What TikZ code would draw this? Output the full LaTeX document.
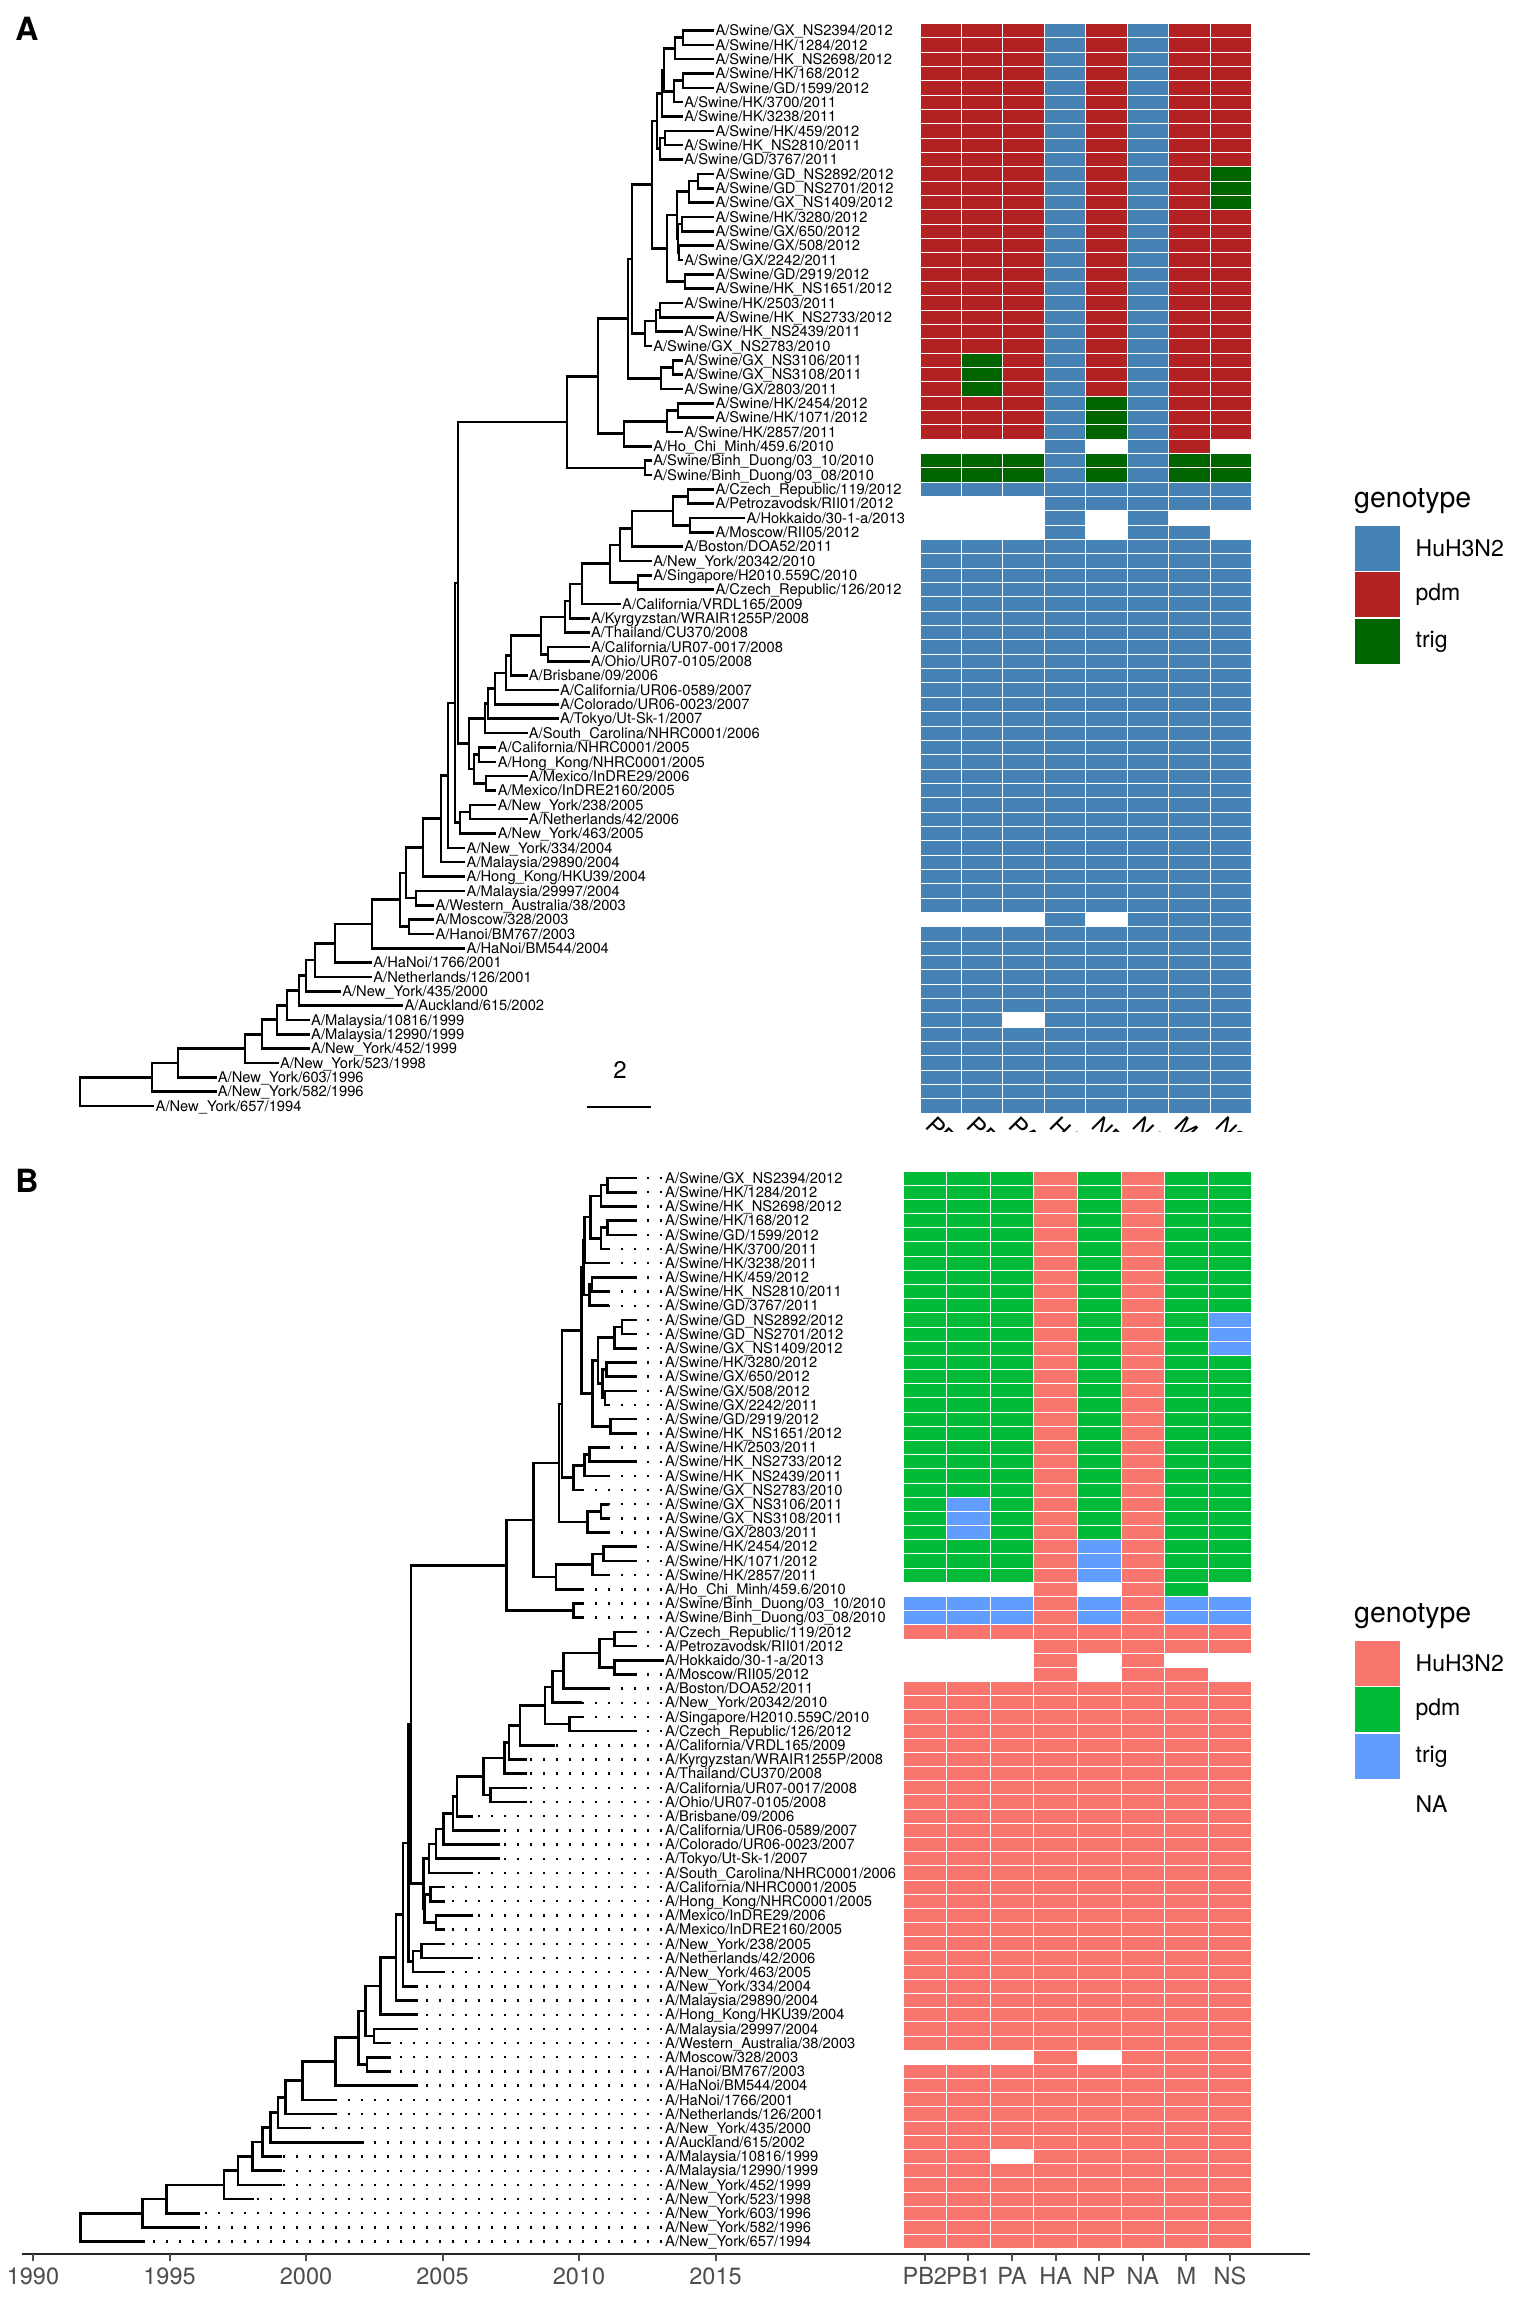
\documentclass[tikz,border=0pt]{standalone}
\usepackage{fontspec}
\setmainfont{TeX Gyre Heros}
\usetikzlibrary{calc,positioning}

\definecolor{Ah}{RGB}{70,130,180}
\definecolor{Ap}{RGB}{178,34,34}
\definecolor{At}{RGB}{0,100,0}
\definecolor{An}{RGB}{255,255,255}
\definecolor{Bh}{HTML}{F8766D}
\definecolor{Bp}{HTML}{00BA38}
\definecolor{Bt}{HTML}{619CFF}
\definecolor{Bn}{RGB}{255,255,255}
\definecolor{axisgray}{HTML}{4D4D4D}

\tikzset{
  branch/.style={line width=2.6pt, line cap=rect},
  tipline/.style={line width=2.4pt, dash pattern=on 2.4pt off 10.6pt},
  taxon/.style={anchor=base west, inner sep=0pt, yshift=-5.2pt, font=\fontsize{14.7}{15}\selectfont},
  cell/.style={draw=white, line width=0.9pt},
  keybox/.style={draw=white, line width=0.9pt, minimum size=46pt, inner sep=0pt},
  keytext/.style={anchor=west, inner sep=0pt, font=\fontsize{23}{24}\selectfont},
  keytitle/.style={anchor=base west, inner sep=0pt, font=\fontsize{28.5}{30}\selectfont},
  ticklab/.style={anchor=base, inner sep=0pt, text=axisgray, font=\fontsize{23.5}{24}\selectfont},
  panlab/.style={inner sep=0pt, font=\fontsize{32}{34}\selectfont\bfseries},
}

\newif\ifpanB
\newcommand\swgen{p,p,p,h,p,h,p,p}
\newcommand\hugen{h,h,h,h,h,h,h,h}

% one taxon: row, year, label, genotypes of the 8 segments
\newcommand\leaf[4]{%
  \edef\glist{#4}%
  \ifpanB
    \pgfmathsetmacro\leafy{1171+(#1-0.5)*14.18}%
    \pgfmathsetmacro\leafx{33+(#2+0.06-1990)*27.3}%
    \coordinate (l#1) at (\leafx,\leafy);
    \draw[tipline] (662,\leafy) -- (l#1);
    \node[taxon] (tB#1) at (665,\leafy) {#3};
    \foreach \g [count=\j] in \glist
      \fill[cell, fill=B\g] ({903+(\j-1)*43.6},{\leafy-7.09}) rectangle ++(43.6,14.18);
  \else
    \pgfmathsetmacro\leafy{23.3+(#1-0.5)*14.34}%
    \pgfmathsetmacro\leafx{28.6+(#2-1990)*31.1}%
    \coordinate (l#1) at (\leafx,\leafy);
    \node[taxon] (tA#1) at (\leafx+2.5,\leafy) {#3};
    \foreach \g [count=\j] in \glist
      \fill[cell, fill=A\g] ({920+(\j-1)*41.45},{\leafy-7.17}) rectangle ++(41.45,14.34);
  \fi}

% one clade: name, two children, x in A, date in B
\newcommand\clade[5]{%
  \ifpanB\pgfmathsetmacro\cladex{33+(#5-1990)*27.3}\else\def\cladex{#4}\fi
  \coordinate (m) at ($(#2)!.5!(#3)$);
  \coordinate (#1) at (\cladex,0 |- m);
  \draw[branch] (#2) -| (#1) |- (#3);}

\newcommand\treedata{%
\leaf{1}{2012}{A/Swine/GX\_NS2394/2012}{\swgen}
\leaf{2}{2012}{A/Swine/HK/1284/2012}{\swgen}
\leaf{3}{2012}{A/Swine/HK\_NS2698/2012}{\swgen}
\leaf{4}{2012}{A/Swine/HK/168/2012}{\swgen}
\leaf{5}{2012}{A/Swine/GD/1599/2012}{\swgen}
\leaf{6}{2011}{A/Swine/HK/3700/2011}{\swgen}
\leaf{7}{2011}{A/Swine/HK/3238/2011}{\swgen}
\leaf{8}{2012}{A/Swine/HK/459/2012}{\swgen}
\leaf{9}{2011}{A/Swine/HK\_NS2810/2011}{\swgen}
\leaf{10}{2011}{A/Swine/GD/3767/2011}{\swgen}
\leaf{11}{2012}{A/Swine/GD\_NS2892/2012}{p,p,p,h,p,h,p,t}
\leaf{12}{2012}{A/Swine/GD\_NS2701/2012}{p,p,p,h,p,h,p,t}
\leaf{13}{2012}{A/Swine/GX\_NS1409/2012}{p,p,p,h,p,h,p,t}
\leaf{14}{2012}{A/Swine/HK/3280/2012}{\swgen}
\leaf{15}{2012}{A/Swine/GX/650/2012}{\swgen}
\leaf{16}{2012}{A/Swine/GX/508/2012}{\swgen}
\leaf{17}{2011}{A/Swine/GX/2242/2011}{\swgen}
\leaf{18}{2012}{A/Swine/GD/2919/2012}{\swgen}
\leaf{19}{2012}{A/Swine/HK\_NS1651/2012}{\swgen}
\leaf{20}{2011}{A/Swine/HK/2503/2011}{\swgen}
\leaf{21}{2012}{A/Swine/HK\_NS2733/2012}{\swgen}
\leaf{22}{2011}{A/Swine/HK\_NS2439/2011}{\swgen}
\leaf{23}{2010}{A/Swine/GX\_NS2783/2010}{\swgen}
\leaf{24}{2011}{A/Swine/GX\_NS3106/2011}{p,t,p,h,p,h,p,p}
\leaf{25}{2011}{A/Swine/GX\_NS3108/2011}{p,t,p,h,p,h,p,p}
\leaf{26}{2011}{A/Swine/GX/2803/2011}{p,t,p,h,p,h,p,p}
\leaf{27}{2012}{A/Swine/HK/2454/2012}{p,p,p,h,t,h,p,p}
\leaf{28}{2012}{A/Swine/HK/1071/2012}{p,p,p,h,t,h,p,p}
\leaf{29}{2011}{A/Swine/HK/2857/2011}{p,p,p,h,t,h,p,p}
\leaf{30}{2010}{A/Ho\_Chi\_Minh/459.6/2010}{n,n,n,h,n,h,p,n}
\leaf{31}{2010}{A/Swine/Binh\_Duong/03\_10/2010}{t,t,t,h,t,h,t,t}
\leaf{32}{2010}{A/Swine/Binh\_Duong/03\_08/2010}{t,t,t,h,t,h,t,t}
\leaf{33}{2012}{A/Czech\_Republic/119/2012}{\hugen}
\leaf{34}{2012}{A/Petrozavodsk/RII01/2012}{n,n,n,h,h,h,h,h}
\leaf{35}{2013}{A/Hokkaido/30-1-a/2013}{n,n,n,h,n,h,n,n}
\leaf{36}{2012}{A/Moscow/RII05/2012}{n,n,n,h,n,h,h,n}
\leaf{37}{2011}{A/Boston/DOA52/2011}{\hugen}
\leaf{38}{2010}{A/New\_York/20342/2010}{\hugen}
\leaf{39}{2010}{A/Singapore/H2010.559C/2010}{\hugen}
\leaf{40}{2012}{A/Czech\_Republic/126/2012}{\hugen}
\leaf{41}{2009}{A/California/VRDL165/2009}{\hugen}
\leaf{42}{2008}{A/Kyrgyzstan/WRAIR1255P/2008}{\hugen}
\leaf{43}{2008}{A/Thailand/CU370/2008}{\hugen}
\leaf{44}{2008}{A/California/UR07-0017/2008}{\hugen}
\leaf{45}{2008}{A/Ohio/UR07-0105/2008}{\hugen}
\leaf{46}{2006}{A/Brisbane/09/2006}{\hugen}
\leaf{47}{2007}{A/California/UR06-0589/2007}{\hugen}
\leaf{48}{2007}{A/Colorado/UR06-0023/2007}{\hugen}
\leaf{49}{2007}{A/Tokyo/Ut-Sk-1/2007}{\hugen}
\leaf{50}{2006}{A/South\_Carolina/NHRC0001/2006}{\hugen}
\leaf{51}{2005}{A/California/NHRC0001/2005}{\hugen}
\leaf{52}{2005}{A/Hong\_Kong/NHRC0001/2005}{\hugen}
\leaf{53}{2006}{A/Mexico/InDRE29/2006}{\hugen}
\leaf{54}{2005}{A/Mexico/InDRE2160/2005}{\hugen}
\leaf{55}{2005}{A/New\_York/238/2005}{\hugen}
\leaf{56}{2006}{A/Netherlands/42/2006}{\hugen}
\leaf{57}{2005}{A/New\_York/463/2005}{\hugen}
\leaf{58}{2004}{A/New\_York/334/2004}{\hugen}
\leaf{59}{2004}{A/Malaysia/29890/2004}{\hugen}
\leaf{60}{2004}{A/Hong\_Kong/HKU39/2004}{\hugen}
\leaf{61}{2004}{A/Malaysia/29997/2004}{\hugen}
\leaf{62}{2003}{A/Western\_Australia/38/2003}{\hugen}
\leaf{63}{2003}{A/Moscow/328/2003}{n,n,n,h,n,h,h,h}
\leaf{64}{2003}{A/Hanoi/BM767/2003}{\hugen}
\leaf{65}{2004}{A/HaNoi/BM544/2004}{\hugen}
\leaf{66}{2001}{A/HaNoi/1766/2001}{\hugen}
\leaf{67}{2001}{A/Netherlands/126/2001}{\hugen}
\leaf{68}{2000}{A/New\_York/435/2000}{\hugen}
\leaf{69}{2002}{A/Auckland/615/2002}{\hugen}
\leaf{70}{1999}{A/Malaysia/10816/1999}{h,h,n,h,h,h,h,h}
\leaf{71}{1999}{A/Malaysia/12990/1999}{\hugen}
\leaf{72}{1999}{A/New\_York/452/1999}{\hugen}
\leaf{73}{1998}{A/New\_York/523/1998}{\hugen}
\leaf{74}{1996}{A/New\_York/603/1996}{\hugen}
\leaf{75}{1996}{A/New\_York/582/1996}{\hugen}
\leaf{76}{1994}{A/New\_York/657/1994}{\hugen}
% swine clade
\clade{c12}{l1}{l2}{683}{2011.05}
\clade{c123}{c12}{l3}{675}{2010.80}
\clade{c45}{l4}{l5}{683}{2011.05}
\clade{c456}{c45}{l6}{674}{2010.80}
\clade{c16}{c123}{c456}{664}{2010.42}
\clade{c17}{c16}{l7}{662}{2010.21}
\clade{c89}{l8}{l9}{665}{2010.48}
\clade{c810}{c89}{l10}{660}{2010.38}
\clade{c110}{c17}{c810}{657}{2010.17}
\clade{c1112}{l11}{l12}{698}{2011.58}
\clade{c1113}{c1112}{l13}{689}{2011.31}
\clade{c1415}{l14}{l15}{682}{2011.00}
\clade{c1617}{l16}{l17}{679}{2010.95}
\clade{c1417}{c1415}{c1617}{678}{2010.85}
\clade{c1117}{c1113}{c1417}{677}{2010.70}
\clade{c1819}{l18}{l19}{685}{2011.16}
\clade{c1119}{c1117}{c1819}{667}{2010.50}
\clade{c119}{c110}{c1119}{652}{2010.10}
\clade{c2021}{l20}{l21}{660}{2010.38}
\clade{c2022}{c2021}{l22}{656}{2010.21}
\clade{c2023}{c2022}{l23}{645}{2009.80}
\clade{c123x}{c119}{c2023}{632}{2009.37}
\clade{c2425}{l24}{l25}{673}{2010.80}
\clade{c2426}{c2425}{l26}{661}{2010.32}
\clade{c126}{c123x}{c2426}{628}{2009.27}
\clade{c2728}{l27}{l28}{678}{2010.89}
\clade{c2729}{c2728}{l29}{667}{2010.50}
\clade{c2730}{c2729}{l30}{624}{2009.16}
\clade{c130}{c126}{c2730}{598}{2008.33}
\clade{c3132}{l31}{l32}{645}{2009.80}
\clade{c132}{c130}{c3132}{567}{2007.34}
% human H3N2
\clade{c3334}{l33}{l34}{688}{2011.31}
\clade{c3536}{l35}{l36}{690}{2011.31}
\clade{c3336}{c3334}{c3536}{673}{2010.74}
\clade{c3337}{c3336}{l37}{632}{2009.44}
\clade{c3338}{c3337}{l38}{620}{2009.02}
\clade{c3940}{l39}{l40}{638}{2009.65}
\clade{c3340}{c3338}{c3940}{610}{2008.75}
\clade{c3341}{c3340}{l41}{582}{2007.84}
\clade{c3342}{c3341}{l42}{570}{2007.44}
\clade{c3343}{c3342}{l43}{565}{2007.28}
\clade{c4445}{l44}{l45}{548}{2006.75}
\clade{c3345}{c3343}{c4445}{541}{2006.50}
\clade{c3346}{c3345}{l46}{511}{2005.53}
\clade{c3347}{c3346}{l47}{506}{2005.39}
\clade{c3348}{c3347}{l48}{495}{2005.03}
\clade{c3349}{c3348}{l49}{488}{2004.76}
\clade{c3350}{c3349}{l50}{485}{2004.50}
\clade{c5152}{l51}{l52}{479}{2004.55}
\clade{c5354}{l53}{l54}{486}{2004.76}
\clade{c5154}{c5152}{c5354}{474}{2004.34}
\clade{c3354}{c3350}{c5154}{469}{2004.30}
\clade{c154}{c132}{c3354}{458}{2003.85}
\clade{c5556}{l55}{l56}{470}{2004.23}
\clade{c5557}{c5556}{l57}{460}{2003.92}
\clade{c157}{c154}{c5557}{455}{2003.76}
\clade{c158}{c157}{l58}{448}{2003.56}
\clade{c159}{c158}{l59}{441}{2003.29}
\clade{c160}{c159}{l60}{423}{2002.72}
\clade{c6162}{l61}{l62}{416}{2002.49}
\clade{c162}{c160}{c6162}{406}{2002.17}
\clade{c6364}{l63}{l64}{409}{2002.24}
\clade{c164}{c162}{c6364}{400}{2001.92}
\clade{c165}{c164}{l65}{372}{2001.08}
\clade{c166}{c165}{l66}{335}{1999.87}
\clade{c167}{c166}{l67}{315}{1999.24}
\clade{c168}{c167}{l68}{306}{1998.98}
\clade{c169}{c168}{l69}{299}{1998.71}
\clade{c170}{c169}{l70}{287}{1998.40}
\clade{c171}{c170}{l71}{277}{1998.04}
\clade{c172}{c171}{l72}{262}{1997.51}
\clade{c173}{c172}{l73}{245}{1996.99}
\clade{c174}{c173}{l74}{178}{1994.89}
\clade{c175}{c174}{l75}{152}{1994.00}
\clade{c176}{c175}{l76}{80}{1991.74}
}

\begin{document}
\begin{tikzpicture}[x=1pt,y=-1pt]
    \useasboundingbox (0,0) rectangle (1536,2304);
    \fill[white] (0,0) rectangle (1536,2304);

    % panel A: divergence tree
    \node[panlab] (panA) at (27,29) {A};
    \panBfalse
    \treedata
    \coordinate (sbL) at (588,1107);
    \coordinate (sbR) at (650,1107);
    \draw[branch] (sbL) -- (sbR);
    \node[inner sep=0pt, font=\fontsize{24}{26}\selectfont] (sbT) at (620,1070) {2};
    \begin{scope}
      \clip (900,1114) rectangle (1270,1131);
      \foreach \gn [count=\j] in {PB2,PB1,PA,HA,NP,NA,M,NS}
        \node[inner sep=0pt, font=\fontsize{24}{26}\selectfont, rotate=-45, anchor=north west] (colA\j) at ({920+(\j-0.5)*41.45-4},1115) {\gn};
    \end{scope}
    \node[keytitle] (gA) at (1354,507) {genotype};
    \node[keybox, fill=Ah] (kAh) at (1377,548) {};
    \node[keybox, fill=Ap, below=0pt of kAh] (kAp) {};
    \node[keybox, fill=At, below=0pt of kAp] (kAt) {};
    \node[keytext, right=15pt of kAh] (kAhl) {HuH3N2};
    \node[keytext, right=15pt of kAp] (kApl) {pdm};
    \node[keytext, right=15pt of kAt] (kAtl) {trig};

    % panel B: time tree
    \node[panlab] (panB) at (27,1181) {B};
    \panBtrue
    \treedata
    \coordinate (axL) at (22,2254);
    \coordinate (axR) at (1310,2254);
    \draw[line width=2pt, black!85] (axL) -- (axR);
    \foreach \yr in {1990,1995,...,2015} {
      \draw[line width=2pt, axisgray] ({33+(\yr-1990)*27.3},2254) -- ++(0,7);
      \node[ticklab] (yr\yr) at ({33+(\yr-1990)*27.3},2284) {\yr};
    }
    \foreach \gn [count=\j] in {PB2,PB1,PA,HA,NP,NA,M,NS} {
      \draw[line width=2pt, axisgray] ({903+(\j-0.5)*43.6},2254) -- ++(0,7);
      \node[ticklab] (colB\j) at ({903+(\j-0.5)*43.6},2284) {\gn};
    }
    \node[keytitle] (gB) at (1354,1622) {genotype};
    \node[keybox, fill=Bh] (kBh) at (1377,1663) {};
    \node[keybox, fill=Bp, below=0pt of kBh] (kBp) {};
    \node[keybox, fill=Bt, below=0pt of kBp] (kBt) {};
    \node[keybox, fill=Bn, below=0pt of kBt] (kBn) {};
    \node[keytext, right=15pt of kBh] (kBhl) {HuH3N2};
    \node[keytext, right=15pt of kBp] (kBpl) {pdm};
    \node[keytext, right=15pt of kBt] (kBtl) {trig};
    \node[keytext, right=15pt of kBn] (kBnl) {NA};
\end{tikzpicture}
\end{document}
